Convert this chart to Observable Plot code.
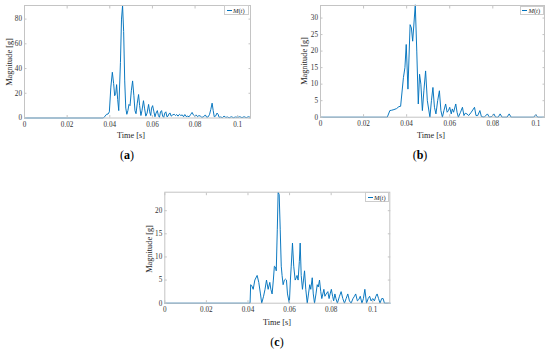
<!DOCTYPE html>
<html><head><meta charset="utf-8">
<script src="https://cdn.jsdelivr.net/npm/d3@7"></script>
<script src="https://cdn.jsdelivr.net/npm/@observablehq/plot@0.6"></script>
<style>
body{margin:0;background:#fff;}
#root{position:relative;width:550px;height:352px;overflow:hidden;background:#fff;font-family:"Liberation Serif",serif;}
.ylab{position:absolute;font-size:8.3px;color:#262626;transform:translate(-50%,-50%) rotate(-90deg);white-space:nowrap;}
.xlab{position:absolute;font-size:8.3px;color:#262626;transform:translate(-50%,-50%);white-space:nowrap;}
.cap{position:absolute;font-size:12px;color:#000;transform:translate(-50%,-50%);white-space:nowrap;}
.leg{position:absolute;border:1px solid #ccc;background:#fff;box-sizing:border-box;font-size:6.5px;color:#262626;white-space:nowrap;}
.leg .ln{position:absolute;left:1.5px;top:50%;width:5px;height:0;border-top:1px solid #0072BD;}
.leg .tx{position:absolute;left:8px;top:50%;transform:translateY(-50%);}
</style>
</head><body>
<div id="root"></div>
<script>
// ---------- data ----------
const xTicks = [0, 0.02, 0.04, 0.06, 0.08, 0.1];
const yTicksA = [0, 20, 40, 60, 80];
const yTicksB = [0, 5, 10, 15, 20, 25, 30];
const yTicksC = [0, 5, 10, 15, 20];
const captions = ["a", "b", "c"];
const xLabel = "Time [s]";
const yLabel = "Magnitude [g]";
const seriesName = "M(t)";

const timeA = [0,0.0370,0.0378,0.0385,0.0392,0.0398,0.0405,0.0412,0.0418,0.0423,0.0428,0.0432,0.0437,0.0442,0.0450,0.0455,0.0460,0.0465,0.0470,0.0475,0.0480,0.0485,0.0490,0.0495,0.0501,0.0507,0.0513,0.0518,0.0523,0.0529,0.0535,0.0540,0.0546,0.0551,0.0558,0.0563,0.0569,0.0575,0.0582,0.0587,0.0592,0.0596,0.0601,0.0607,0.0612,0.0617,0.0623,0.0628,0.0633,0.0638,0.0643,0.0648,0.0653,0.0658,0.0663,0.0668,0.0673,0.0678,0.0683,0.0688,0.0695,0.0702,0.0708,0.0714,0.0720,0.0727,0.0733,0.0740,0.0746,0.0752,0.0758,0.0765,0.0772,0.0780,0.0786,0.0792,0.0798,0.0805,0.0812,0.0818,0.0825,0.0832,0.0840,0.0848,0.0855,0.0862,0.0868,0.0874,0.0880,0.0885,0.0890,0.0896,0.0903,0.0908,0.0913,0.0920,0.0928,0.0936,0.0944,0.0952,0.0960,0.0970,0.0980,0.0990,0.1000,0.1010,0.1020,0.1030,0.1040,0.1050,0.1060];
const magA  = [0,0,1.5,3,3.2,5,25,37,28,18,20,27,15,6,45,80,91,70,30,8,3,6,11,10,22,30,18,6,3.5,12,19,10,2,6,14,8,1.5,4,11,5,2,8,10,5,1,4,6,2,0.5,5,6,1.5,0.5,4,5,1,1.5,3.5,4,1.5,2.5,3,2,2.8,1.5,3,2,2.5,1,2.8,1.2,1.5,1,3,4.5,2.5,1.5,2.5,1,2,1.5,0.5,1,2.5,0.5,1,3,7,12,6,1,1.5,4,3,0.5,0.8,0.3,1.5,0.5,0.8,0.2,1,0.3,0.8,0.5,1,0.3,1,0.3,1,0.5];

const timeB = [0,0.0310,0.0322,0.0330,0.0341,0.0353,0.0364,0.0372,0.0385,0.0392,0.0398,0.0406,0.0416,0.0422,0.0428,0.0440,0.0447,0.0454,0.0460,0.0466,0.0473,0.0480,0.0488,0.0496,0.0508,0.0515,0.0522,0.0529,0.0536,0.0544,0.0552,0.0559,0.0566,0.0573,0.0581,0.0588,0.0594,0.0600,0.0607,0.0612,0.0618,0.0628,0.0634,0.0640,0.0650,0.0659,0.0666,0.0672,0.0680,0.0688,0.0700,0.0715,0.0722,0.0730,0.0740,0.0747,0.0760,0.0775,0.0784,0.0795,0.0805,0.0813,0.0825,0.0834,0.0843,0.0866,0.0876,0.0885,0.0990,0.1000,0.1008,0.1040];
const magB  = [0,0,2,2.1,2.3,2.6,3.2,3.3,12,15,22,8.5,28,27,23,34,20,4,13,10,2,8,14,5,0,5,9,3,1,5,8,2,0,2,4,1.5,2,3,1,2.5,1.5,4,1.5,0,1.5,3,0.5,1.2,1,0.5,1.5,3,0.5,0.5,2,0.2,0,1,0,0.2,1,0,0,1,0,0,1,0,0,0.8,0,0];

const timeC = [0,0.0410,0.0413,0.0418,0.0425,0.0433,0.0444,0.0452,0.0460,0.0466,0.0475,0.0482,0.0489,0.0497,0.0505,0.0510,0.0516,0.0522,0.0527,0.0532,0.0536,0.0541,0.0545,0.0550,0.0555,0.0560,0.0564,0.0569,0.0575,0.0580,0.0585,0.0590,0.0599,0.0604,0.0608,0.0614,0.0620,0.0627,0.0632,0.0636,0.0641,0.0647,0.0651,0.0656,0.0662,0.0667,0.0672,0.0678,0.0685,0.0691,0.0697,0.0702,0.0709,0.0714,0.0720,0.0727,0.0733,0.0738,0.0744,0.0750,0.0755,0.0760,0.0765,0.0770,0.0776,0.0784,0.0790,0.0795,0.0801,0.0807,0.0812,0.0818,0.0823,0.0830,0.0840,0.0848,0.0856,0.0864,0.0872,0.0880,0.0888,0.0896,0.0905,0.0912,0.0918,0.0926,0.0933,0.0940,0.0948,0.0955,0.0962,0.0970,0.0978,0.0985,0.0992,0.1000,0.1008,0.1015,0.1021,0.1028,0.1035,0.1043,0.1050,0.1056,0.1083];
const magC  = [0,0,4,3.8,3,5,6,4.5,2,0,1.5,3,5,3,4.5,3,2,5,8,7.8,7,16,24,23.5,16,8,6,4,5,5.2,5,2,0,5,8,13,8,5,5.5,6,5,9,13,6,3,5,7,3,0,2,4,3,5.5,2,0,2,4,3.5,5,2.5,1,2,3,1.5,2,2.5,1,2,3,1.5,0.5,2,1,0,1.5,2.5,1,0,1,2,0.5,0,1,1.5,2,0.5,0.8,1.5,0,1,3,0,1,1.5,0.5,1,0.5,1.5,2,1,0,1,1,0,0];

// ---------- layout ----------
const panels = [
  {t: timeA, m: magA, yTicks: yTicksA, xmax: 0.106, ymax: 91,
   left: 0, top: 0, width: 262, height: 145, ml: 24, mr: 12, mt: 5, mb: 27.5,
   ylab: [8.5, 62], xlab: [131, 135], cap: [127, 155], leg: [224, 5, 25, 10]},
  {t: timeB, m: magB, yTicks: yTicksB, xmax: 0.104, ymax: 33.8,
   left: 270, top: 0, width: 280, height: 145, ml: 50, mr: 6, mt: 5, mb: 28.3,
   ylab: [303.5, 61], xlab: [431, 135], cap: [420, 155], leg: [519.5, 5.5, 24.5, 9.5]},
  {t: timeC, m: magC, yTicks: yTicksC, xmax: 0.1082, ymax: 24,
   left: 130, top: 180, width: 270, height: 145, ml: 34.3, mr: 10.7, mt: 11.7, mb: 22.3,
   ylab: [148.5, 249], xlab: [277, 321.5], cap: [277, 342], leg: [365, 192, 24.3, 9.5]}
];

const root = document.getElementById("root");
const frameColor = "#c4c4c4";
const textColor = "#333";

panels.forEach((p, i) => {
  const data = p.t.map((t, k) => ({t, m: p.m[k]}));
  const svg = Plot.plot({
    width: p.width, height: p.height,
    marginLeft: p.ml, marginRight: p.mr, marginTop: p.mt, marginBottom: p.mb,
    style: {fontFamily: '"Liberation Serif", serif', fontSize: "7.2px", background: "transparent", overflow: "visible"},
    x: {domain: [0, p.xmax], label: null},
    y: {domain: [0, p.ymax], label: null},
    marks: [
      Plot.line(data, {x: "t", y: "m", stroke: "#0072BD", strokeWidth: 0.95}),
      Plot.frame({stroke: frameColor}),
      Plot.axisX({anchor: "bottom", ticks: xTicks, tickSize: -2.5, tickPadding: 6, tickFormat: d => String(d), stroke: frameColor, fill: textColor, label: null}),
      Plot.axisX({anchor: "top", ticks: xTicks, tickSize: -2.5, tickFormat: () => "", stroke: frameColor, label: null}),
      Plot.axisY({anchor: "left", ticks: p.yTicks, tickSize: -2.5, tickPadding: 5, tickFormat: d => String(d), stroke: frameColor, fill: textColor, label: null}),
      Plot.axisY({anchor: "right", ticks: p.yTicks, tickSize: -2.5, tickFormat: () => "", stroke: frameColor, label: null})
    ]
  });
  svg.style.position = "absolute";
  svg.style.left = p.left + "px";
  svg.style.top = p.top + "px";
  root.appendChild(svg);

  const yl = document.createElement("div");
  yl.className = "ylab"; yl.textContent = yLabel;
  yl.style.left = p.ylab[0] + "px"; yl.style.top = p.ylab[1] + "px";
  root.appendChild(yl);

  const xl = document.createElement("div");
  xl.className = "xlab"; xl.textContent = xLabel;
  xl.style.left = p.xlab[0] + "px"; xl.style.top = p.xlab[1] + "px";
  root.appendChild(xl);

  const cap = document.createElement("div");
  cap.className = "cap";
  cap.innerHTML = "(<b>" + captions[i] + "</b>)";
  cap.style.left = p.cap[0] + "px"; cap.style.top = p.cap[1] + "px";
  root.appendChild(cap);

  const leg = document.createElement("div");
  leg.className = "leg";
  leg.style.left = p.leg[0] + "px"; leg.style.top = p.leg[1] + "px";
  leg.style.width = p.leg[2] + "px"; leg.style.height = p.leg[3] + "px";
  const ln = document.createElement("span"); ln.className = "ln";
  const tx = document.createElement("span"); tx.className = "tx";
  tx.innerHTML = "<i>M</i>(<i>t</i>)";
  tx.setAttribute("aria-label", seriesName);
  leg.appendChild(ln); leg.appendChild(tx);
  root.appendChild(leg);
});
</script>
</body></html>
